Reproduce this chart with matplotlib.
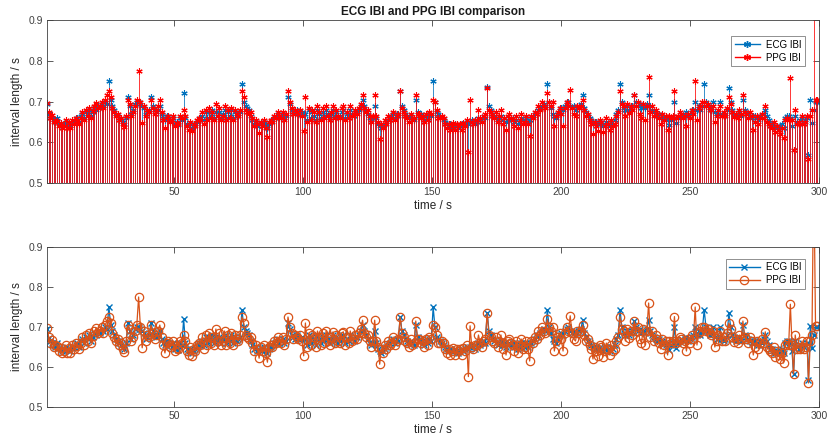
import numpy as np
import matplotlib
matplotlib.use("Agg")
import matplotlib.pyplot as plt
from matplotlib.lines import Line2D
from matplotlib.legend_handler import HandlerLine2D

# ---------------- data ----------------
ecg_ibi = [
    0.695, 0.672, 0.665, 0.66, 0.655, 0.65, 0.66, 0.648, 0.645, 0.64,
    0.645, 0.65, 0.642, 0.645, 0.64, 0.648, 0.65, 0.655, 0.66, 0.65,
    0.665, 0.67, 0.66, 0.675, 0.67, 0.68, 0.665, 0.675, 0.685, 0.68,
    0.69, 0.685, 0.695, 0.69, 0.70, 0.695, 0.75, 0.705, 0.69, 0.68,
    0.67, 0.665, 0.66, 0.655, 0.65, 0.645, 0.66, 0.71, 0.69, 0.67,
    0.68, 0.695, 0.70, 0.70, 0.695, 0.69, 0.685, 0.67, 0.675, 0.68,
    0.71, 0.69, 0.68, 0.675, 0.68, 0.69, 0.67, 0.66, 0.655, 0.665,
    0.66, 0.655, 0.65, 0.66, 0.645, 0.65, 0.643, 0.66, 0.655, 0.72,
    0.66, 0.645, 0.64, 0.645, 0.635, 0.64, 0.645, 0.65, 0.655, 0.66,
    0.665, 0.655, 0.675, 0.66, 0.675, 0.665, 0.68, 0.66, 0.675, 0.665,
    0.675, 0.66, 0.67, 0.68, 0.66, 0.675, 0.665, 0.68, 0.66, 0.675,
    0.665, 0.67, 0.675, 0.743, 0.70, 0.69, 0.685, 0.68, 0.665, 0.655,
    0.645, 0.65, 0.64, 0.645, 0.648, 0.64, 0.65, 0.642, 0.635, 0.645,
    0.65, 0.655, 0.66, 0.665, 0.67, 0.66, 0.665, 0.67, 0.66, 0.665,
    0.71, 0.695, 0.68, 0.675, 0.67, 0.68, 0.672, 0.668, 0.675, 0.67,
    0.67, 0.655, 0.68, 0.66, 0.675, 0.665, 0.655, 0.68, 0.67, 0.66,
    0.675, 0.665, 0.68, 0.67, 0.66, 0.67, 0.68, 0.665, 0.675, 0.66,
    0.665, 0.675, 0.68, 0.66, 0.67, 0.665, 0.68, 0.67, 0.665, 0.675,
    0.675, 0.68, 0.69, 0.705, 0.69, 0.68, 0.67, 0.66, 0.655, 0.66,
    0.69, 0.66, 0.645, 0.64, 0.635, 0.64, 0.645, 0.65, 0.655, 0.66,
    0.665, 0.67, 0.66, 0.67, 0.665, 0.726, 0.69, 0.68, 0.67, 0.665,
    0.66, 0.665, 0.66, 0.655, 0.705, 0.675, 0.665, 0.67, 0.66, 0.655,
    0.665, 0.66, 0.67, 0.665, 0.75, 0.70, 0.675, 0.67, 0.665, 0.66,
    0.655, 0.65, 0.645, 0.64, 0.645, 0.638, 0.64, 0.645, 0.64, 0.635,
    0.64, 0.645, 0.64, 0.645, 0.65, 0.645, 0.65, 0.655, 0.65, 0.645,
    0.65, 0.66, 0.655, 0.66, 0.665, 0.66, 0.735, 0.69, 0.68, 0.67,
    0.665, 0.66, 0.655, 0.66, 0.665, 0.655, 0.66, 0.65, 0.655, 0.66,
    0.655, 0.66, 0.65, 0.655, 0.645, 0.65, 0.66, 0.655, 0.65, 0.66,
    0.65, 0.655, 0.66, 0.665, 0.67, 0.675, 0.68, 0.685, 0.69, 0.695,
    0.69, 0.742, 0.70, 0.685, 0.67, 0.665, 0.66, 0.67, 0.68, 0.685,
    0.68, 0.69, 0.695, 0.70, 0.69, 0.685, 0.69, 0.68, 0.685, 0.69,
    0.695, 0.717, 0.685, 0.675, 0.665, 0.66, 0.655, 0.65, 0.645, 0.65,
    0.645, 0.65, 0.645, 0.64, 0.645, 0.65, 0.645, 0.64, 0.65, 0.645,
    0.655, 0.67, 0.68, 0.743, 0.70, 0.685, 0.68, 0.69, 0.68, 0.685,
    0.69, 0.715, 0.70, 0.69, 0.695, 0.685, 0.69, 0.685, 0.695, 0.717,
    0.69, 0.68, 0.675, 0.67, 0.665, 0.67, 0.66, 0.665, 0.66, 0.655,
    0.66, 0.643, 0.655, 0.66, 0.70, 0.648, 0.66, 0.665, 0.67, 0.665,
    0.67, 0.675, 0.665, 0.67, 0.675, 0.68, 0.70, 0.68, 0.69, 0.68,
    0.69, 0.743, 0.70, 0.69, 0.68, 0.685, 0.70, 0.675, 0.67, 0.67,
    0.70, 0.67, 0.665, 0.67, 0.68, 0.734, 0.70, 0.68, 0.67, 0.665,
    0.67, 0.675, 0.665, 0.705, 0.68, 0.675, 0.67, 0.665, 0.66, 0.665,
    0.665, 0.66, 0.655, 0.665, 0.66, 0.67, 0.68, 0.665, 0.655, 0.645,
    0.645, 0.64, 0.635, 0.64, 0.635, 0.64, 0.645, 0.635, 0.66, 0.665,
    0.665, 0.66, 0.64, 0.582, 0.665, 0.65, 0.645, 0.655, 0.66, 0.65,
    0.655, 0.66, 0.568, 0.703, 0.647, 0.68, 0.70, 0.70,
]

ppg_ibi = [
    0.697, 0.675, 0.66, 0.668, 0.65, 0.655, 0.652, 0.64, 0.648, 0.635,
    0.64, 0.655, 0.635, 0.648, 0.636, 0.655, 0.645, 0.66, 0.652, 0.645,
    0.66, 0.675, 0.655, 0.68, 0.665, 0.685, 0.66, 0.678, 0.69, 0.697,
    0.685, 0.69, 0.70, 0.685, 0.705, 0.715, 0.725, 0.71, 0.685, 0.675,
    0.665, 0.67, 0.655, 0.66, 0.645, 0.638, 0.665, 0.705, 0.695, 0.665,
    0.675, 0.69, 0.705, 0.775, 0.70, 0.648, 0.69, 0.665, 0.68, 0.675,
    0.705, 0.685, 0.67, 0.68, 0.69, 0.705, 0.675, 0.655, 0.635, 0.66,
    0.665, 0.65, 0.655, 0.665, 0.64, 0.648, 0.645, 0.665, 0.66, 0.68,
    0.665, 0.64, 0.63, 0.65, 0.628, 0.645, 0.64, 0.655, 0.66, 0.655,
    0.675, 0.645, 0.68, 0.655, 0.685, 0.66, 0.675, 0.655, 0.695, 0.665,
    0.685, 0.655, 0.665, 0.69, 0.655, 0.68, 0.66, 0.685, 0.655, 0.68,
    0.67, 0.665, 0.68, 0.725, 0.71, 0.68, 0.675, 0.67, 0.675, 0.66,
    0.64, 0.655, 0.645, 0.622, 0.65, 0.64, 0.655, 0.635, 0.612, 0.65,
    0.655, 0.65, 0.665, 0.66, 0.675, 0.665, 0.66, 0.675, 0.655, 0.67,
    0.725, 0.70, 0.685, 0.67, 0.68, 0.675, 0.67, 0.68, 0.665, 0.628,
    0.71, 0.65, 0.685, 0.655, 0.68, 0.675, 0.65, 0.69, 0.675, 0.655,
    0.685, 0.66, 0.69, 0.665, 0.655, 0.675, 0.688, 0.66, 0.68, 0.665,
    0.66, 0.685, 0.688, 0.655, 0.675, 0.66, 0.69, 0.665, 0.67, 0.68,
    0.67, 0.685, 0.695, 0.717, 0.685, 0.675, 0.68, 0.665, 0.65, 0.665,
    0.717, 0.665, 0.65, 0.607, 0.645, 0.635, 0.655, 0.645, 0.665, 0.655,
    0.66, 0.675, 0.655, 0.665, 0.67, 0.725, 0.685, 0.675, 0.665, 0.66,
    0.65, 0.67, 0.655, 0.66, 0.715, 0.67, 0.67, 0.66, 0.665, 0.65,
    0.67, 0.655, 0.675, 0.67, 0.705, 0.70, 0.68, 0.66, 0.66, 0.665,
    0.66, 0.645, 0.635, 0.645, 0.63, 0.64, 0.648, 0.63, 0.645, 0.64,
    0.645, 0.63, 0.648, 0.64, 0.655, 0.576, 0.703, 0.65, 0.645, 0.655,
    0.655, 0.68, 0.66, 0.65, 0.665, 0.67, 0.734, 0.68, 0.675, 0.665,
    0.66, 0.675, 0.65, 0.665, 0.68, 0.645, 0.66, 0.63, 0.665, 0.67,
    0.66, 0.655, 0.64, 0.665, 0.635, 0.655, 0.67, 0.645, 0.65, 0.665,
    0.645, 0.615, 0.665, 0.66, 0.675, 0.67, 0.69, 0.68, 0.70, 0.69,
    0.685, 0.72, 0.70, 0.69, 0.70, 0.64, 0.665, 0.675, 0.685, 0.67,
    0.64, 0.685, 0.70, 0.69, 0.728, 0.685, 0.67, 0.665, 0.69, 0.685,
    0.69, 0.705, 0.68, 0.665, 0.67, 0.655, 0.645, 0.62, 0.65, 0.64,
    0.628, 0.655, 0.65, 0.625, 0.64, 0.66, 0.645, 0.63, 0.655, 0.64,
    0.645, 0.665, 0.675, 0.726, 0.695, 0.69, 0.665, 0.695, 0.672, 0.69,
    0.68, 0.715, 0.69, 0.70, 0.67, 0.66, 0.695, 0.655, 0.69, 0.76,
    0.675, 0.69, 0.665, 0.68, 0.67, 0.66, 0.645, 0.67, 0.655, 0.665,
    0.63, 0.665, 0.66, 0.665, 0.726, 0.66, 0.665, 0.675, 0.67, 0.66,
    0.665, 0.64, 0.67, 0.66, 0.68, 0.67, 0.75, 0.655, 0.685, 0.69,
    0.70, 0.70, 0.69, 0.695, 0.685, 0.68, 0.69, 0.65, 0.665, 0.68,
    0.69, 0.665, 0.675, 0.665, 0.685, 0.71, 0.695, 0.675, 0.663, 0.67,
    0.66, 0.68, 0.67, 0.715, 0.675, 0.67, 0.66, 0.675, 0.665, 0.63,
    0.65, 0.665, 0.645, 0.66, 0.67, 0.66, 0.688, 0.65, 0.645, 0.64,
    0.635, 0.65, 0.625, 0.64, 0.63, 0.62, 0.635, 0.61, 0.655, 0.66,
    0.655, 0.757, 0.655, 0.582, 0.68, 0.645, 0.65, 0.645, 0.665, 0.645,
    0.65, 0.665, 0.56, 0.665, 0.68, 1.10, 0.703, 0.703,
]

series_labels = ["ECG IBI", "PPG IBI"]
title_text = "ECG IBI and PPG IBI comparison"
x_label = "time / s"
y_label = "interval length / s"
x_ticks = [50, 100, 150, 200, 250, 300]
y_ticks = [0.5, 0.6, 0.7, 0.8, 0.9]

ecg = np.array(ecg_ibi)
ppg = np.array(ppg_ibi)
t = np.cumsum(ecg)          # beat time stamps

# ---------------- style ----------------
BLUE = "#0072BD"
ORANGE = "#D95319"
RED = "#FF0000"
AXC = "#404040"
plt.rcParams["font.family"] = ["Liberation Sans", "DejaVu Sans"]

fig = plt.figure(figsize=(8.3, 4.44), dpi=100)
ax1 = fig.add_axes([0.0566, 0.5878, 0.930, 0.367])
ax2 = fig.add_axes([0.0566, 0.0833, 0.930, 0.3604])

ast = (6, 2, 0)  # asterisk marker


class EndMarkerHandler(HandlerLine2D):
    def get_xdata(self, legend, xdescent, ydescent, width, height, fontsize):
        xdata = [-xdescent, -xdescent + width]
        return xdata, [-xdescent + width]


def style_axes(ax):
    ax.set_xlim(t[0], t[-1])
    ax.set_ylim(0.5, 0.9)
    ax.set_xticks(x_ticks)
    ax.set_yticks(y_ticks)
    ax.set_yticklabels([f"{v:.1f}" for v in y_ticks])
    ax.tick_params(direction="in", length=4, width=0.6, colors=AXC,
                   labelsize=7.5, top=True, right=True, pad=3)
    for s in ax.spines.values():
        s.set_color(AXC)
        s.set_linewidth(0.6)
    ax.set_xlabel(x_label, fontsize=8.5, color="#262626", labelpad=2)
    ax.set_ylabel(y_label, fontsize=8.5, color="#262626", labelpad=4)


# ---------------- top: stems ----------------
for vals, col in ((ecg, BLUE), (ppg, RED)):
    ml, sl, bl = ax1.stem(t, vals, linefmt="-", markerfmt=" ", basefmt=" ",
                          bottom=0)
    sl.set_color(col)
    sl.set_linewidth(0.55)
    ax1.plot(t, vals, ls="none", marker=ast, ms=4.5, mew=0.8, color=col)

style_axes(ax1)
ax1.set_title(title_text, fontsize=8.5, fontweight="bold", pad=4,
              color="#1a1a1a")

h1 = [Line2D([], [], color=BLUE, lw=1.0, marker=ast, ms=5, mew=1.0),
      Line2D([], [], color=RED, lw=1.0, marker=ast, ms=5, mew=1.0)]
leg1 = ax1.legend(h1, series_labels, loc="upper right",
                  bbox_to_anchor=(0.988, 0.93), fontsize=7, frameon=True,
                  fancybox=False, framealpha=1, edgecolor="#7f7f7f",
                  handlelength=2.6, borderpad=0.35, labelspacing=0.3,
                  handletextpad=0.6, numpoints=1,
                  handler_map={Line2D: EndMarkerHandler()})
leg1.get_frame().set_linewidth(0.6)

# ---------------- bottom: lines ----------------
ax2.plot(t, ecg, "-", color=BLUE, lw=0.9, marker="x", ms=4, mew=1.0)
ax2.plot(t, ppg, "-", color=ORANGE, lw=0.9, marker="o", ms=6,
         mfc="none", mew=0.9)
style_axes(ax2)

h2 = [Line2D([], [], color=BLUE, lw=1.0, marker="x", ms=4, mew=1.0),
      Line2D([], [], color=ORANGE, lw=1.0, marker="o", ms=6, mfc="none",
             mew=0.9)]
leg2 = ax2.legend(h2, series_labels, loc="upper right",
                  bbox_to_anchor=(0.988, 0.955), fontsize=7, frameon=True,
                  fancybox=False, framealpha=1, edgecolor="#7f7f7f",
                  handlelength=3.2, borderpad=0.35, labelspacing=0.3,
                  handletextpad=0.6, numpoints=1)
leg2.get_frame().set_linewidth(0.6)

fig.savefig("out.png", dpi=100)
